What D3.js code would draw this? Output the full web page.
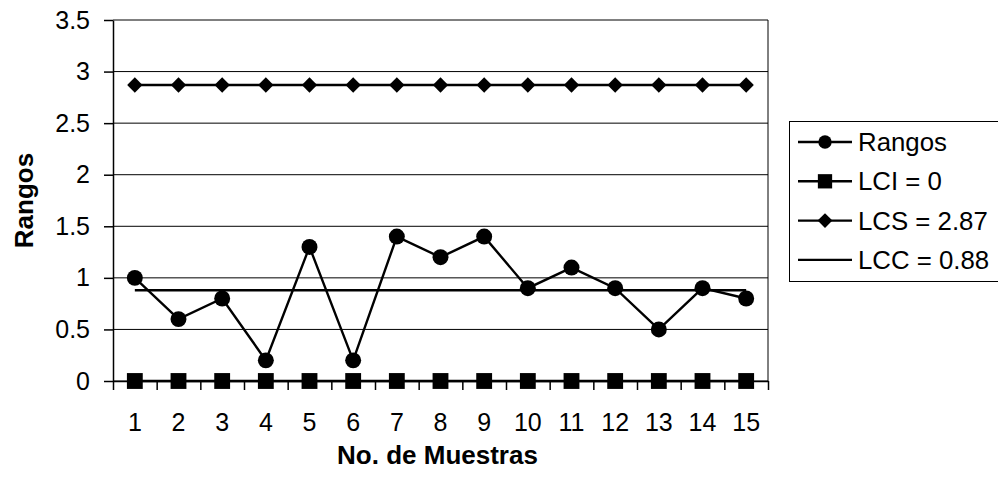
<!DOCTYPE html>
<html>
<head>
<meta charset="utf-8">
<script src="https://cdn.jsdelivr.net/npm/d3@7"></script>
<style>
  body { margin: 0; background: #fff; }
  svg { display: block; font-family: Arial, "Liberation Sans", sans-serif; }
</style>
</head>
<body>
<svg width="998" height="482"></svg>
<script>
let muestras = [1, 2, 3, 4, 5, 6, 7, 8, 9, 10, 11, 12, 13, 14, 15];
let rangos = [1, 0.6, 0.8, 0.2, 1.3, 0.2, 1.4, 1.2, 1.4, 0.9, 1.1, 0.9, 0.5, 0.9, 0.8];
let lci = [0, 0, 0, 0, 0, 0, 0, 0, 0, 0, 0, 0, 0, 0, 0];
let lcs = [2.87, 2.87, 2.87, 2.87, 2.87, 2.87, 2.87, 2.87, 2.87, 2.87, 2.87, 2.87, 2.87, 2.87, 2.87];
let lcc = [0.88, 0.88, 0.88, 0.88, 0.88, 0.88, 0.88, 0.88, 0.88, 0.88, 0.88, 0.88, 0.88, 0.88, 0.88];
let yTicks = [0, 0.5, 1, 1.5, 2, 2.5, 3, 3.5];
let legendLabels = ["Rangos", "LCI = 0", "LCS = 2.87", "LCC = 0.88"];

let svg = d3.select("svg");
let margin = {top: 20, right: 230, bottom: 101, left: 113};
let width = 998, height = 482;
let fontSize = 25;

let x = d3.scaleBand()
	.domain(muestras)
	.range([margin.left, width - margin.right]);
let xEdge = d3.scaleLinear()
	.domain([0, muestras.length])
	.range([margin.left, width - margin.right]);
let y = d3.scaleLinear()
	.domain([0, 3.5])
	.range([height - margin.bottom, margin.top]);
let cx = d => x(d) + x.bandwidth() / 2;

// gridlines
svg.append("g")
	.selectAll("line").data(yTicks).enter().append("line")
	.attr("x1", margin.left).attr("x2", width - margin.right)
	.attr("y1", d => y(d)).attr("y2", d => y(d))
	.attr("stroke", "#000").attr("stroke-width", 1);

// right border of plot
svg.append("line")
	.attr("x1", width - margin.right).attr("x2", width - margin.right)
	.attr("y1", margin.top).attr("y2", y(0))
	.attr("stroke", "#000");

// y axis
svg.append("g")
	.attr("transform", `translate(${margin.left},0)`)
	.call(d3.axisLeft(y).tickValues(yTicks).tickSize(9).tickPadding(14)
		.tickFormat(d => String(d)).tickSizeOuter(0))
	.call(g => g.selectAll("text").attr("font-size", fontSize).attr("font-family", null).attr("fill", "#000"))
	.call(g => g.selectAll("line, path").attr("stroke", "#000").attr("stroke-width", 1.5));

// x axis: tick marks between categories
svg.append("g")
	.attr("transform", `translate(0,${y(0)})`)
	.call(d3.axisBottom(xEdge).ticks(15).tickSize(9).tickFormat("").tickSizeOuter(0))
	.call(g => g.selectAll("line, path").attr("stroke", "#000").attr("stroke-width", 1.5));

// x axis labels
svg.append("g")
	.attr("transform", `translate(0,${y(0)})`)
	.call(d3.axisBottom(x).tickSize(0).tickPadding(32))
	.call(g => g.select(".domain").remove())
	.call(g => g.selectAll("text").attr("font-size", fontSize).attr("font-family", null).attr("fill", "#000"));

let line = d3.line().x((d, i) => cx(muestras[i])).y(d => y(d));

function drawSeries(values, shape, size) {
	svg.append("path").datum(values)
		.attr("d", line).attr("fill", "none")
		.attr("stroke", "#000").attr("stroke-width", 2.4);
	if (shape) {
		svg.append("g").selectAll("path").data(values).enter().append("path")
			.attr("transform", (d, i) => `translate(${cx(muestras[i])},${y(d)})`)
			.attr("d", d3.symbol().type(shape).size(size))
			.attr("fill", "#000");
	}
}

drawSeries(lcc, null, 0);
drawSeries(lcs, d3.symbolDiamond2, 150);
drawSeries(lci, d3.symbolSquare2, 320);
drawSeries(rangos, d3.symbolCircle, 200);

// axis titles
svg.append("text")
	.attr("transform", `translate(24,${(margin.top + y(0)) / 2}) rotate(-90)`)
	.attr("text-anchor", "middle").attr("dy", "0.35em")
	.attr("font-size", 26).attr("font-weight", "bold")
	.text("Rangos");
svg.append("text")
	.attr("x", (margin.left + width - margin.right) / 2 - 3).attr("y", 455)
	.attr("text-anchor", "middle").attr("dy", "0.35em")
	.attr("font-size", 26).attr("font-weight", "bold")
	.text("No. de Muestras");

// legend
let legend = svg.append("g");
legend.append("rect")
	.attr("x", 789.5).attr("y", 121.5).attr("width", 220).attr("height", 160)
	.attr("fill", "#fff").attr("stroke", "#000");
let legendShapes = [[d3.symbolCircle, 140], [d3.symbolSquare2, 260], [d3.symbolDiamond2, 140], [null, 0]];
let rowY = i => 142 + i * 39.3;
legendLabels.forEach((label, i) => {
	legend.append("line")
		.attr("x1", 798).attr("x2", 852).attr("y1", rowY(i)).attr("y2", rowY(i))
		.attr("stroke", "#000").attr("stroke-width", 2.4);
	if (legendShapes[i][0]) {
		legend.append("path")
			.attr("transform", `translate(825,${rowY(i)})`)
			.attr("d", d3.symbol().type(legendShapes[i][0]).size(legendShapes[i][1]))
			.attr("fill", "#000");
	}
	legend.append("text")
		.attr("x", 858).attr("y", rowY(i)).attr("dy", "0.35em")
		.attr("font-size", 25.8)
		.text(label);
});
</script>
</body>
</html>
